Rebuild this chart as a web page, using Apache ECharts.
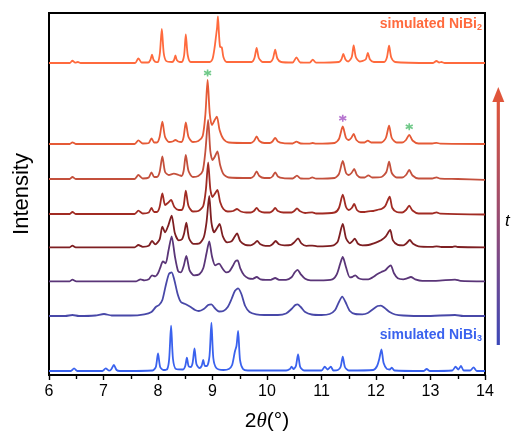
<!DOCTYPE html>
<html><head><meta charset="utf-8">
<script src="https://cdn.jsdelivr.net/npm/echarts@6/dist/echarts.min.js"></script>
<style>html,body{margin:0;padding:0;background:#fff}#c{width:515px;height:437px}</style>
</head><body><div id="c"></div>
<script>
// x: 2theta (deg), value: intensity above each trace's own baseline (arb. units)
const xTicks = [6, 7, 8, 9, 10, 11, 12, 13, 14];
const offsets = [312, 231, 196, 161, 127.7, 93.7, 59, 4];
const colors = ['#ff6a3d', '#e55a36', '#c4503c', '#a12b23', '#7e1f22', '#5a3578', '#4848a8', '#3a62ee'];

const simNiBi2 = [[6.0,0],[6.38,0],[6.43,2.3],[6.48,0.3],[6.53,1],[6.58,0],
[7.58,0],[7.64,4.7],[7.70,0.5],[7.82,0.5],[7.86,3],[7.89,8.3],[7.92,3],[7.97,0.8],
[8.00,1],[8.035,10],[8.07,34],[8.105,10],[8.15,2],[8.26,1],[8.295,3],[8.32,7.7],[8.345,3],[8.4,1],
[8.44,1],[8.48,8],[8.51,28.7],[8.545,8],[8.6,1],
[8.95,1],[9.0,4],[9.04,16],[9.065,27],[9.085,36],[9.10,46.7],[9.12,28],[9.14,16],[9.17,15.7],[9.20,6],[9.26,1],
[9.72,1],[9.77,5],[9.81,15],[9.85,5],[9.92,1],[10.06,1],[10.11,4.5],[10.15,13.3],[10.19,4.5],[10.26,1],
[10.47,0.5],[10.54,5.7],[10.61,0.5],[10.78,0.3],[10.84,3.3],[10.90,0.3],
[11.32,1],[11.365,3.5],[11.40,9],[11.44,3.5],[11.49,1.5],[11.555,6],[11.59,17.7],[11.63,6],[11.70,1.5],[11.81,3.5],[11.85,10],[11.89,3.5],[11.96,1],
[12.15,1],[12.20,5.5],[12.24,17.3],[12.28,5.5],[12.35,1],[13.04,0],[13.11,2],[13.16,0.5],[13.20,1],[13.26,0],[14,0]];

const exp1 = [[6.0,0],[6.38,0],[6.43,1.7],[6.49,0],
[7.57,0],[7.64,3.7],[7.72,0.5],[7.83,1],[7.88,5.7],[7.93,1.5],
[7.98,1.5],[8.03,7],[8.08,22.3],[8.13,7],[8.2,2],[8.27,2.5],[8.32,4],[8.37,2.5],[8.43,2],[8.47,7],[8.51,21.7],[8.56,7],[8.64,2],
[8.74,3],[8.82,8],[8.87,30],[8.91,64],[8.95,30],[8.99,19],[9.04,24],[9.08,27.3],[9.13,14],[9.2,5],[9.3,1.5],
[9.7,1],[9.76,3],[9.81,7.5],[9.86,3],[9.95,1],[10.05,1],[10.1,2.5],[10.15,6.2],[10.2,2.5],[10.3,0.8],[10.47,0.5],[10.54,2.3],[10.62,0.5],[10.77,0.3],[10.84,1],[10.9,0.3],
[11.24,1],[11.32,5],[11.39,17.5],[11.45,6],[11.5,4],[11.545,6],[11.59,10],[11.64,4],[11.72,1.5],[11.79,1.5],[11.85,3.3],[11.91,1.5],
[12.1,1.5],[12.18,6],[12.24,18.3],[12.29,6],[12.38,1.5],[12.48,1.5],[12.55,4],[12.61,9.2],[12.67,3.5],[12.78,0.5],[13.03,0.5],[13.11,1.2],[13.18,0.3],[14,0]];

const exp2 = [[6.0,0],[6.38,0],[6.43,2],[6.49,0],
[7.57,0],[7.64,4],[7.72,0.5],[7.83,1.5],[7.88,6.7],[7.93,2],
[7.98,2],[8.03,7],[8.08,22.7],[8.13,7],[8.2,4],[8.29,5.3],[8.38,4],[8.43,3],[8.47,8],[8.51,24],[8.56,8],[8.64,2],
[8.74,3],[8.82,8],[8.87,28],[8.92,59],[8.96,28],[9.0,19],[9.04,22],[9.09,27.6],[9.14,14],[9.2,5],[9.3,1.5],
[9.7,1],[9.76,3],[9.81,7.6],[9.86,3],[9.95,1],[10.05,1],[10.1,2.5],[10.15,6.7],[10.2,2.5],[10.3,0.8],[10.47,0.5],[10.55,3.3],[10.62,0.5],[10.77,0.3],[10.83,1.7],[10.9,0.3],
[11.24,1],[11.32,5],[11.39,18],[11.45,6],[11.5,4],[11.55,6],[11.6,10],[11.65,4],[11.72,1.5],[11.79,1.5],[11.86,3.7],[11.93,1.5],[12.1,2],[12.19,7],[12.24,17.3],[12.29,6],[12.38,1.5],[12.48,1.5],[12.55,4],[12.61,9],[12.67,3.5],[12.78,0.5],[13.03,0.5],[13.11,1.7],[13.18,0.3],[13.5,0],[14,-0.8]];

const exp3 = [[6.0,0],[6.38,0],[6.43,2],[6.49,0],
[7.57,0],[7.64,3.3],[7.72,0.5],[7.83,1.5],[7.88,6],[7.93,2],
[7.98,2],[8.03,7],[8.08,20.7],[8.13,9],[8.18,11],[8.24,14],[8.3,7],[8.38,4],[8.43,4],[8.47,8],[8.51,23.3],[8.56,8],[8.64,2.5],
[8.74,3],[8.83,8],[8.88,25],[8.92,51.7],[8.96,25],[9.0,17],[9.04,20],[9.09,24],[9.14,12],[9.2,5],[9.28,2.5],[9.38,3],[9.45,5],[9.52,2.5],[9.62,1.5],
[9.7,1.5],[9.76,3],[9.81,6],[9.86,3],[9.95,1.5],[10.05,1.5],[10.1,3],[10.15,6],[10.2,3],[10.3,1.5],[10.45,1.5],[10.5,3],[10.55,5.7],[10.6,3],[10.7,1],[10.83,1.7],[10.9,0.5],
[11.24,1.5],[11.32,6],[11.39,19.3],[11.45,7],[11.5,4],[11.555,6],[11.6,10],[11.65,4],[11.72,2],[11.79,2],[11.86,2.7],[11.95,3],[12.05,4.5],[12.1,5],[12.17,8],[12.25,17.3],[12.3,6],[12.38,2],[12.48,1.5],[12.55,4],[12.61,8.3],[12.67,3.5],[12.78,0.5],[13.03,0.5],[13.11,1.7],[13.18,0.3],[14,-0.5]];

const exp4 = [[6.0,0],[6.38,0],[6.43,1.7],[6.49,0],[7.57,0],[7.64,2.3],[7.72,0.5],[7.83,1.5],[7.89,6.3],[7.95,3],
[8.03,8],[8.08,20.7],[8.13,15],[8.19,22],[8.25,31.7],[8.31,14],[8.38,7],[8.44,8],[8.48,14],[8.52,24.7],[8.57,9],[8.65,3.5],
[8.76,4],[8.84,10],[8.89,25],[8.94,51.3],[8.98,25],[9.03,15],[9.08,19],[9.13,23.3],[9.19,11],[9.27,5],[9.35,6],[9.40,10],[9.45,14],[9.51,6],[9.6,2.5],
[9.7,2],[9.76,3.5],[9.82,6.3],[9.88,3],[9.97,1.5],[10.05,1.5],[10.1,3],[10.16,6.3],[10.22,3],[10.32,2],[10.44,2.5],[10.5,5],[10.57,9],[10.63,4],[10.72,1.5],[10.83,1.7],[10.92,1],
[11.22,2],[11.3,6],[11.39,23.3],[11.45,9],[11.52,4],[11.565,6],[11.61,8.7],[11.67,3.5],[11.75,2],[11.86,2.3],[11.96,4],[12.05,6],[12.1,7.3],[12.18,11],[12.26,17.3],[12.31,7],[12.4,2.5],[12.5,2],[12.56,4],[12.62,7.3],[12.68,3.5],[12.78,1],[13.03,0.5],[13.11,1],[13.2,0.3],[13.4,0.3],[13.45,1],[13.5,0.3],[14,0]];

const exp5 = [[6.0,0],[6.38,0],[6.43,1.7],[6.5,0],[7.6,0],[7.68,2],[7.75,1],[7.83,2],[7.89,6],[7.95,5],[8.0,8],[8.05,15],[8.09,20],[8.14,18],[8.19,30],[8.25,45],[8.31,25],[8.37,10],[8.42,9],[8.47,15],[8.52,25.5],[8.58,11],[8.66,6],
[8.76,7],[8.83,13],[8.89,28],[8.94,40],[8.99,25],[9.05,16],[9.12,17.7],[9.18,13],[9.25,9],[9.31,10],[9.37,15],[9.42,20],[9.46,21],[9.51,13],[9.58,6],[9.66,3],[9.74,2.5],[9.81,4.3],[9.88,2],[9.98,1.5],[10.07,1.5],[10.15,3.3],[10.22,1.5],[10.35,1.5],[10.45,4],[10.51,9],[10.56,11.5],[10.62,7],[10.7,2.5],[10.8,1],[10.95,1],
[11.2,2],[11.28,7],[11.34,17],[11.39,24.3],[11.45,14],[11.52,4],[11.57,4.5],[11.62,6],[11.68,3],[11.76,2],[11.86,2],[11.94,4],[12.02,7],[12.1,9.3],[12.17,11],[12.22,14],[12.27,16],[12.33,8],[12.4,3],[12.5,2],[12.57,3],[12.64,4.3],[12.72,2],[12.85,0.5],[13.1,0.5],[13.45,1.7],[13.55,0.5],[14,0]];

const exp6 = [[6.0,0],[6.3,0],[6.43,1],[6.55,0],[6.85,0.5],[7.01,2],[7.15,0.5],[7.5,0.5],[7.75,1.7],[7.88,4],[7.96,9],[8.02,11],[8.08,16],[8.14,30],[8.2,42],[8.25,43.7],[8.3,36],[8.36,22],[8.42,14],[8.51,11.7],[8.6,9],[8.68,6],[8.75,5],[8.84,7],[8.92,11],[8.98,11.7],[9.04,8],[9.12,4.5],[9.2,5],[9.28,9],[9.35,17],[9.41,25],[9.47,27.7],[9.53,22],[9.6,10],[9.68,4],[9.8,1.7],[9.95,1],[10.2,1],[10.35,2.5],[10.45,7],[10.52,11],[10.56,11.7],[10.62,9],[10.7,4],[10.82,1.5],[11.0,1],[11.15,2],[11.25,6],[11.32,14],[11.38,19.3],[11.44,14],[11.52,5],[11.62,2],[11.75,1.7],[11.85,3],[11.95,7],[12.03,10],[12.09,10.3],[12.16,8],[12.25,4],[12.35,1.5],[12.5,0.5],[12.9,0],[13.45,1],[13.6,0],[14,0]];

const simNiBi3 = [[6.0,0],[6.4,0],[6.46,2.7],[6.52,0],[6.98,0],[7.04,2.7],[7.1,0.3],[7.14,1.5],[7.19,6],[7.24,1],[7.3,0],
[7.9,0.5],[7.96,4],[8.0,17.7],[8.04,4],[8.1,1],[8.17,2],[8.205,12],[8.24,45.3],[8.275,12],[8.33,2],
[8.46,1.5],[8.5,5],[8.53,13.3],[8.56,5],[8.6,4],[8.635,8],[8.67,22.7],[8.705,7],[8.76,3],[8.8,5],[8.83,11],[8.86,5],[8.9,5],[8.945,15],[8.98,48.3],[9.015,13],[9.07,3],[9.2,1],[9.3,2],[9.36,6],[9.41,19.3],[9.44,25],[9.47,40],[9.505,11],[9.56,2],[9.65,0.5],
[10.35,0.5],[10.42,2],[10.45,4.3],[10.49,2],[10.53,5],[10.57,16.7],[10.61,4],[10.68,0.5],
[11.0,0.5],[11.06,4.3],[11.11,1.5],[11.17,4.3],[11.22,0.5],[11.3,1],[11.35,4],[11.39,14.3],[11.43,4],[11.5,0.5],
[11.95,1],[12.02,5],[12.06,12],[12.1,21.7],[12.14,8],[12.2,2],[12.25,1.5],[12.29,3.3],[12.34,0.5],[12.87,0],[12.93,2],[12.99,0],[13.4,0.5],[13.46,4.3],[13.51,1.5],[13.56,5],[13.61,0.5],[13.73,0.5],[13.79,3.7],[13.85,0],[14,0]];

const traces = [simNiBi2, exp1, exp2, exp3, exp4, exp5, exp6, simNiBi3];
// asterisk markers: [2theta, absolute y value]
const greenStars = [[8.91, 302], [12.61, 248.3]];
const purpleStars = [[11.39, 256.7]];

const chart = echarts.init(document.getElementById('c'), null, {renderer: 'canvas'});
const series = traces.map((t, i) => ({
  type: 'line', symbol: 'none', smooth: 0.25, silent: true,
  data: t.map(p => [p[0], p[1] + offsets[i]]),
  lineStyle: {color: colors[i], width: 1.8},
  z: 2 + i
}));
const star = 'path://M0,-10L0,10M-8.66,-5L8.66,5M-8.66,5L8.66,-5';
series.push({type: 'scatter', data: greenStars, symbol: star, symbolSize: 7,
  itemStyle: {color: 'none', borderColor: '#4cbb6c', borderWidth: 1.6}, z: 20});
series.push({type: 'scatter', data: purpleStars, symbol: star, symbolSize: 7,
  itemStyle: {color: 'none', borderColor: '#a452c4', borderWidth: 1.6}, z: 20});

chart.setOption({
  animation: false,
  grid: {left: 49, right: 30, top: 13, bottom: 62, show: true, borderColor: '#000', borderWidth: 2},
  xAxis: {
    type: 'value', min: 6, max: 14, interval: 1,
    axisLine: {lineStyle: {color: '#000', width: 2}},
    axisTick: {show: true, length: 5, lineStyle: {color: '#000', width: 1.4}},
    minorTick: {show: true, splitNumber: 2, length: 4, lineStyle: {color: '#000', width: 1.4}},
    splitLine: {show: false},
    axisLabel: {color: '#000', fontSize: 16, fontFamily: 'Liberation Sans, Arial', margin: 9,
      formatter: v => xTicks.includes(v) ? String(v) : ''},
    name: '{a|2}{b|θ}{a|(°)}', nameLocation: 'middle', nameGap: 36,
    nameTextStyle: {rich: {
      a: {fontSize: 21, fontFamily: 'Liberation Sans, Arial', color: '#000'},
      b: {fontSize: 21, fontFamily: 'Liberation Serif, Times New Roman', fontStyle: 'italic', color: '#000'}}}
  },
  yAxis: {
    type: 'value', min: 0, max: 362,
    axisLine: {show: true, lineStyle: {color: '#000', width: 2}},
    axisTick: {show: false}, axisLabel: {show: false}, splitLine: {show: false},
    name: 'Intensity', nameLocation: 'middle', nameGap: 16, nameRotate: 90,
    nameTextStyle: {fontSize: 22, fontFamily: 'Liberation Sans, Arial', color: '#000'}
  },
  graphic: [
    {type: 'text', right: 33, top: 17, style: {
      text: '{a|simulated NiBi}{s|2}', fill: '#ff6a3d',
      rich: {a: {fontSize: 14, fontWeight: 'bold', fontFamily: 'Liberation Sans, Arial', fill: '#ff6a3d'},
             s: {fontSize: 9, fontWeight: 'bold', fontFamily: 'Liberation Sans, Arial', fill: '#ff6a3d', verticalAlign: 'bottom', padding: [8,0,0,0]}}}},
    {type: 'text', right: 33, top: 328, style: {
      text: '{a|simulated NiBi}{s|3}', fill: '#3a62ee',
      rich: {a: {fontSize: 14, fontWeight: 'bold', fontFamily: 'Liberation Sans, Arial', fill: '#3a62ee'},
             s: {fontSize: 9, fontWeight: 'bold', fontFamily: 'Liberation Sans, Arial', fill: '#3a62ee', verticalAlign: 'bottom', padding: [8,0,0,0]}}}},
    {type: 'rect', shape: {x: 496.7, y: 100, width: 3.2, height: 245},
      style: {fill: new echarts.graphic.LinearGradient(0, 0, 0, 1, [
        {offset: 0, color: '#e0553a'}, {offset: 0.55, color: '#8d4a7a'}, {offset: 1, color: '#3c48b8'}])}},
    {type: 'polygon', shape: {points: [[498.3, 87], [492.3, 102], [504.3, 102]]}, style: {fill: '#e0553a'}},
    {type: 'text', x: 505, y: 213, style: {text: 't', fontSize: 17, fontStyle: 'italic',
      fontFamily: 'Liberation Sans, Arial', fill: '#000'}}
  ],
  series
});
</script></body></html>
